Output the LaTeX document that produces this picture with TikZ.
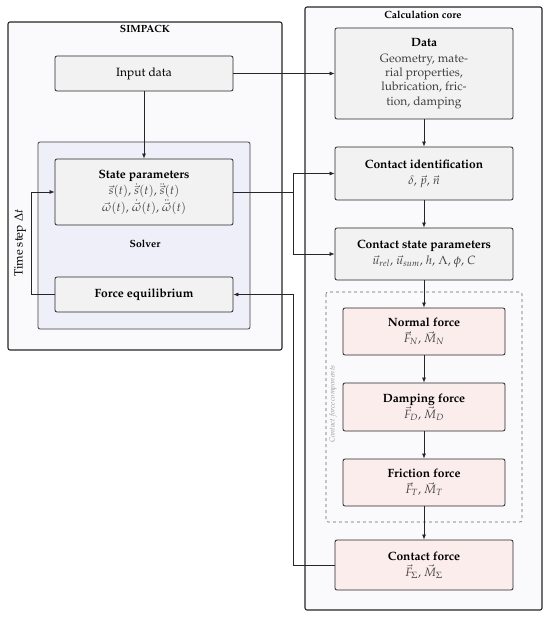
\documentclass[tikz,border=0pt]{standalone}
\usepackage[T1]{fontenc}
\usepackage{mathpazo}
\usetikzlibrary{arrows.meta}
\definecolor{outerfill}{HTML}{FAFAFC}
\definecolor{solverfill}{HTML}{EFEFFA}
\definecolor{grayfill}{HTML}{F2F2F2}
\definecolor{pinkfill}{HTML}{FCEDED}
\tikzset{
  outerbox/.style={draw=black!85, line width=1.1pt, rounded corners=2pt, fill=outerfill},
  solverbox/.style={draw=black!75, line width=0.8pt, rounded corners=2pt, fill=solverfill},
  graybox/.style={draw=black!85, line width=0.8pt, rounded corners=2pt, fill=grayfill, align=center, inner sep=2pt, font=\fontsize{12}{16}\selectfont},
  pinkbox/.style={draw=black!85, line width=0.8pt, rounded corners=2pt, fill=pinkfill, align=center, inner sep=2pt, font=\fontsize{12}{16}\selectfont},
  dashbox/.style={draw=black!60, line width=0.6pt, dashed, rounded corners=2pt},
  conn/.style={draw=black!85, line width=0.7pt},
  arr/.style={conn, -{Latex[length=5pt,width=4pt]}},
  lbl/.style={font=\bfseries\fontsize{10.4}{12}\selectfont},
}
\newcommand{\sub}[1]{\textcolor{black!75}{#1}}
\begin{document}
\begin{tikzpicture}[x=1pt,y=-1pt]
\useasboundingbox (0,0) rectangle (550,617);
% outer frames
\draw[outerbox] (8,22) rectangle (282,350);
\draw[outerbox] (305,7) rectangle (542,610);
\node[lbl] (simlbl) at (145,29) {SIMPACK};
\node[lbl] (corelbl) at (423,15) {Calculation core};
% solver
\draw[solverbox] (38,142) rectangle (250,329);
\node[lbl] (solverlbl) at (145,244) {Solver};
\node[rotate=90, font=\fontsize{12}{14}\selectfont] (tslbl) at (20,243) {Time step $\Delta t$};
% dashed group
\draw[dashbox] (326,292) rectangle (522,522);
\node[rotate=90, font=\itshape\fontsize{7.4}{9}\selectfont, text=black!40] (cfclbl) at (333,404) {Contact force components};
% left nodes
\node[graybox, minimum width=178pt, minimum height=35pt] (inp) at (144,73.5) {Input data};
\node[graybox, font=\fontsize{12}{16.5}\selectfont, minimum width=178pt, minimum height=66pt] (sp) at (144,192)
  {\textbf{State parameters}\\ \sub{$\vec{s}(t)$, $\dot{\vec{s}}(t)$, $\ddot{\vec{s}}(t)$}\\ \sub{$\vec{\omega}(t)$, $\dot{\vec{\omega}}(t)$, $\ddot{\vec{\omega}}(t)$}};
\node[graybox, minimum width=178pt, minimum height=35pt] (fe) at (144,294.5) {\textbf{Force equilibrium}};
% right nodes
\node[graybox, font=\fontsize{12}{14.4}\selectfont, minimum width=178pt, minimum height=91pt] (data) at (424,73.5)
  {\textbf{Data}\\[1.5pt] \sub{Geometry, mate-}\\ \sub{rial properties,}\\ \sub{lubrication, fric-}\\ \sub{tion, damping}};
\node[graybox, minimum width=178pt, minimum height=53pt] (ci) at (424,173.5)
  {\textbf{Contact identification}\\ \sub{$\delta$, $\vec{p}$, $\vec{n}$}};
\node[graybox, minimum width=178pt, minimum height=52pt] (csp) at (424,254)
  {\textbf{Contact state parameters}\\ \sub{$\vec{u}_{rel}$, $\vec{u}_{sum}$, $h$, $\Lambda$, $\phi$, $C$}};
\node[pinkbox, minimum width=162pt, minimum height=47pt] (nf) at (424,331.5)
  {\textbf{Normal force}\\ \sub{$\vec{F}_N$, $\vec{M}_N$}};
\node[pinkbox, minimum width=162pt, minimum height=48pt] (df) at (424,407)
  {\textbf{Damping force}\\ \sub{$\vec{F}_D$, $\vec{M}_D$}};
\node[pinkbox, minimum width=162pt, minimum height=47pt] (ff) at (424,482.5)
  {\textbf{Friction force}\\ \sub{$\vec{F}_T$, $\vec{M}_T$}};
\node[pinkbox, minimum width=178pt, minimum height=50pt] (cf) at (424,565)
  {\textbf{Contact force}\\ \sub{$\vec{F}_\Sigma$, $\vec{M}_\Sigma$}};
% junction coordinates
\coordinate (j1) at (293,192);
\coordinate (j2) at (293,565);
\coordinate (j3) at (31,294.5);
% connectors
\draw[arr] (inp.east) -- (data.west);
\draw[arr] (inp.south) -- (sp.north);
\draw[conn] (sp.east) -- (j1);
\draw[arr] (j1) |- (ci.west);
\draw[arr] (j1) |- (csp.west);
\draw[arr] (fe.west) -- (j3) |- (sp.west);
\draw[arr] (cf.west) -- (j2) |- (fe.east);
\draw[arr] (data.south) -- (ci.north);
\draw[arr] (ci.south) -- (csp.north);
\draw[arr] (csp.south) -- (nf.north);
\draw[arr] (nf.south) -- (df.north);
\draw[arr] (df.south) -- (ff.north);
\draw[arr] (ff.south) -- (cf.north);
\end{tikzpicture}
\end{document}
